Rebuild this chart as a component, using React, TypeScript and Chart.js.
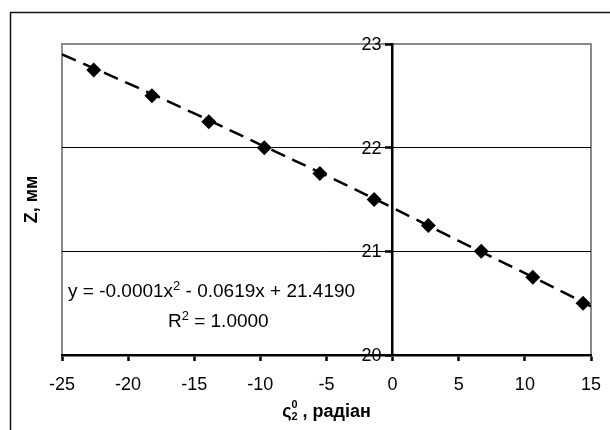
import React, { useEffect, useRef } from 'react';
import { Chart, registerables } from 'chart.js';

Chart.register(...registerables);

// Measured points
const phiValues = [-22.6, -18.2, -13.9, -9.7, -5.5, -1.4, 2.7, 6.7, 10.6, 14.4];
const zValues = [22.75, 22.5, 22.25, 22.0, 21.75, 21.5, 21.25, 21.0, 20.75, 20.5];

// Trend line
const trendPhi = [-25, -20, -15, -10, -5, 0, 5, 10, 15];
const trendZ = [22.9, 22.62, 22.33, 22.03, 21.73, 21.42, 21.1, 20.79, 20.47];

// Axis settings
const xMin = -25;
const xMax = 15;
const xStep = 5;
const yMin = 20;
const yMax = 23;
const yStep = 1;

// Texts
const yTitle = 'Z, мм';
const xTitleSymbol = 'ς';
const xTitleSup = '0';
const xTitleSub = '2';
const xTitleRest = ' , радіан';
const eqPart1 = 'y = -0.0001x';
const eqSup = '2';
const eqPart2 = ' - 0.0619x + 21.4190';
const r2Part1 = 'R';
const r2Sup = '2';
const r2Part2 = ' = 1.0000';

const FONT = '"Liberation Sans", Arial, sans-serif';
const FS = 18;
const EQ_FS = 19;

const decorPlugin = {
  id: 'decor',
  beforeDraw(chart: any) {
    const ctx = chart.ctx as CanvasRenderingContext2D;
    const { left, top, right, bottom } = chart.chartArea;
    ctx.save();
    ctx.fillStyle = '#ffffff';
    ctx.fillRect(0, 0, chart.width, chart.height);
    // outer chart border (left and top only are visible)
    ctx.strokeStyle = '#111111';
    ctx.lineWidth = 1.5;
    ctx.beginPath();
    ctx.moveTo(10.5, chart.height);
    ctx.lineTo(10.5, 12.5);
    ctx.lineTo(chart.width, 12.5);
    ctx.stroke();
    // plot area border
    ctx.strokeStyle = '#8a8a8a';
    ctx.lineWidth = 2;
    ctx.strokeRect(left, top, right - left, bottom - top);
    ctx.restore();
  },
  afterDraw(chart: any) {
    const ctx = chart.ctx as CanvasRenderingContext2D;
    const { left, top, right, bottom } = chart.chartArea;
    const yScale = chart.scales.y;
    const xScale = chart.scales.x;
    ctx.save();
    ctx.fillStyle = '#000000';

    // y tick labels, left of the crossing axis
    const axisX = xScale.getPixelForValue(0);
    ctx.font = `${FS}px ${FONT}`;
    ctx.textAlign = 'right';
    ctx.textBaseline = 'middle';
    for (const t of yScale.ticks) {
      ctx.fillText(String(t.value), axisX - 11, yScale.getPixelForValue(t.value) + 1);
    }
    // x tick labels
    ctx.textAlign = 'center';
    for (const t of xScale.ticks) {
      ctx.fillText(String(t.value), xScale.getPixelForValue(t.value), bottom + 30);
    }

    ctx.textBaseline = 'alphabetic';
    // y title
    ctx.save();
    ctx.font = `bold ${FS}px ${FONT}`;
    ctx.translate(37, (top + bottom) / 2);
    ctx.rotate(-Math.PI / 2);
    ctx.textAlign = 'center';
    ctx.fillText(yTitle, 0, 0);
    ctx.restore();

    // x title
    ctx.font = `bold ${FS}px ${FONT}`;
    const symW = ctx.measureText(xTitleSymbol).width;
    const restW = ctx.measureText(xTitleRest).width;
    ctx.font = `bold ${FS * 0.6}px ${FONT}`;
    const scriptW = Math.max(ctx.measureText(xTitleSup).width, ctx.measureText(xTitleSub).width);
    const total = symW + scriptW + restW;
    const xs = (left + right) / 2 - total / 2;
    const by = 417;
    ctx.textAlign = 'left';
    ctx.font = `bold ${FS}px ${FONT}`;
    ctx.fillText(xTitleSymbol, xs, by);
    ctx.font = `bold ${FS * 0.6}px ${FONT}`;
    ctx.fillText(xTitleSup, xs + symW, by - 9);
    ctx.fillText(xTitleSub, xs + symW, by + 3);
    ctx.font = `bold ${FS}px ${FONT}`;
    ctx.fillText(xTitleRest, xs + symW + scriptW, by);

    // equation
    const drawSup = (a: string, s: string, b: string, x: number, y: number) => {
      ctx.font = `${EQ_FS}px ${FONT}`;
      ctx.fillText(a, x, y);
      let cx = x + ctx.measureText(a).width;
      ctx.font = `${EQ_FS * 0.68}px ${FONT}`;
      ctx.fillText(s, cx, y - 7);
      cx += ctx.measureText(s).width;
      ctx.font = `${EQ_FS}px ${FONT}`;
      ctx.fillText(b, cx, y);
    };
    drawSup(eqPart1, eqSup, eqPart2, left + 6, 297);
    drawSup(r2Part1, r2Sup, r2Part2, left + 106, 327);
    ctx.restore();
  },
};

export default function App() {
  const ref = useRef<HTMLCanvasElement | null>(null);
  useEffect(() => {
    if (!ref.current) return;
    const chart = new Chart(ref.current, {
      type: 'scatter',
      data: {
        datasets: [
          {
            label: 'points',
            data: phiValues.map((x, i) => ({ x, y: zValues[i] })),
            backgroundColor: '#000000',
            borderColor: '#000000',
            pointStyle: 'rectRot',
            pointRadius: 7.5,
            pointBorderWidth: 0,
            showLine: false,
          },
          {
            label: 'trend',
            data: trendPhi.map((x, i) => ({ x, y: trendZ[i] })),
            borderColor: '#000000',
            borderWidth: 2.5,
            borderDash: [15, 8],
            pointRadius: 0,
            showLine: true,
            tension: 0.4,
          },
        ],
      },
      options: {
        responsive: false,
        animation: false,
        devicePixelRatio: 1,
        layout: { padding: { left: 62, top: 44, right: 19, bottom: 69 } },
        plugins: {
          legend: { display: false },
          tooltip: { enabled: false },
        },
        scales: {
          x: {
            type: 'linear',
            position: 'bottom',
            min: xMin,
            max: xMax,
            ticks: {
              stepSize: xStep,
              display: false,
            },
            grid: {
              drawOnChartArea: false,
              drawTicks: true,
              tickLength: 6,
              tickColor: '#000000',
              tickWidth: 2.5,
            },
            border: { display: true, color: '#000000', width: 2.5 },
          },
          y: {
            type: 'linear',
            position: { x: 0 },
            min: yMin,
            max: yMax,
            ticks: {
              stepSize: yStep,
              display: false,
            },
            grid: {
              color: (c: any) => (c.tick && c.tick.value === yMax ? '#8a8a8a' : '#000000'),
              lineWidth: 1,
              drawTicks: true,
              tickLength: 6,
              tickColor: '#000000',
              tickWidth: 2.5,
            },
            border: { display: true, color: '#000000', width: 2.5 },
          },
        },
      },
      plugins: [decorPlugin],
    } as any);
    return () => chart.destroy();
  }, []);
  return (
    <div style={{ position: 'absolute', left: 0, top: 0, width: 610, height: 430 }}>
      <canvas ref={ref} width={610} height={430} style={{ display: 'block', width: 610, height: 430 }} />
    </div>
  );
}
